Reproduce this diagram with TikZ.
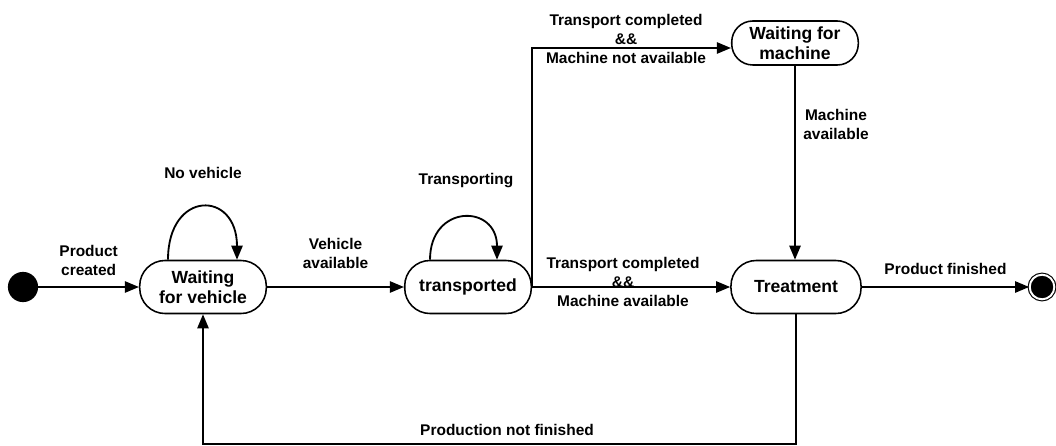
\documentclass[tikz,border=0pt]{standalone}
\usepackage{fontspec}
\setmainfont{Liberation Sans}
\usetikzlibrary{calc,arrows.meta}
\tikzset{
	st/.style={draw, rectangle, rounded corners=18pt, minimum width=90pt, minimum height=37.7pt, align=center, line width=1.1pt, font=\fontsize{12.5}{14.5}\selectfont\bfseries},
	lbl/.style={align=center, font=\fontsize{11}{13.5}\selectfont\bfseries},
	arr/.style={line width=1.3pt, -{Triangle[length=10pt,width=8pt]}},
}
\begin{document}
\begin{tikzpicture}[x=0.025cm,y=-0.025cm]
		\useasboundingbox (0,0) rectangle (1056,446);
		\node[circle, fill, inner sep=0pt, minimum size=21.5pt] (start) at (23,287) {}; %start
		\node[st] (wfv) at (203,287) {Waiting\\for vehicle};
		\node[st] (trans) at (468,287) {transported};
		\node[st, minimum width=92.5pt] (treat) at (796,287) {Treatment};
		\node[st, minimum height=31.3pt, rounded corners=15pt] (wfm) at (795,43) {Waiting for\\machine};
		\node[circle, fill, draw, line width=0.8pt, double=white, double distance=1.4pt, inner sep=0pt, minimum size=17.5pt] (end) at (1042,287) {}; %end
		\coordinate (low) at (500,444);
		% transitions
		\draw[arr] (start) -- (wfv) node[lbl, pos=0.5, above=4pt] (lpc) {Product\\created};
		\draw[arr] ($(wfv.north)+(-35,0)$) .. controls +(0,-70) and +(0,-70) .. ($(wfv.north)+(34,0)$);
		\node[lbl] (lnv) at (203,173) {No vehicle};
		\draw[arr] (wfv) -- (trans) node[lbl, pos=0.5, above=9pt] (lva) {Vehicle\\available};
		\draw[arr] ($(trans.north)+(-38,0)$) .. controls +(0,-56) and +(0,-56) .. ($(trans.north)+(29,0)$);
		\node[lbl] (ltr) at (466,181) {Transporting};
		\draw[arr] (trans) -- (treat);
		\node[lbl] (lma) at (623,282) {Transport completed\\\&\&\\Machine available};
		\draw[arr] (trans.east) |- ($(wfm.west)+(0,5)$);
		\node[lbl] (lmna) at (626,39) {Transport completed\\\&\&\\Machine not available};
		\draw[arr] (wfm) -- (wfm |- treat.north);
		\node[lbl] (lmav) at (836,124) {Machine\\available};
		\draw[arr] (treat) -- (end) node[lbl, pos=0.5, above=5pt] (lpf) {Product finished};
		\draw[arr] (treat.south) |- (low) -| (wfv.south);
		\node[lbl] (lpn) at (507,430) {Production not finished};
	\end{tikzpicture}
\end{document}
